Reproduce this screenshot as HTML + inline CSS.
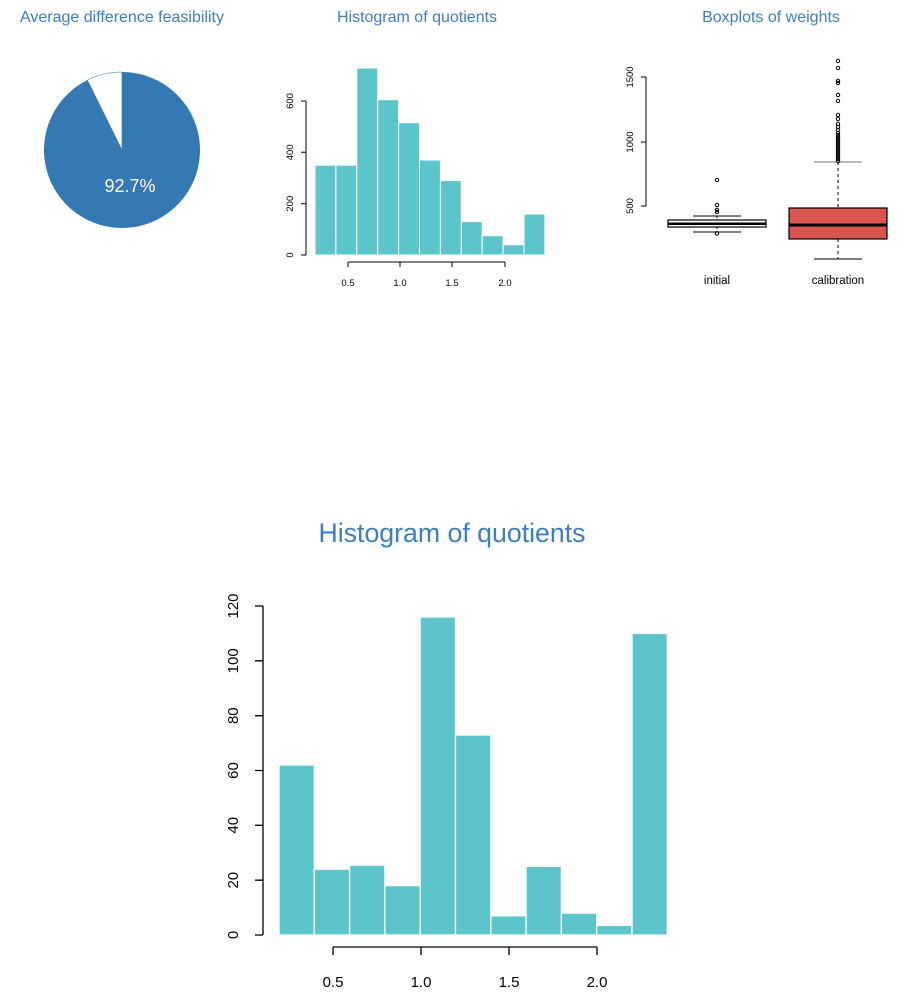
<!DOCTYPE html>
<html><head><meta charset="utf-8"><style>
html,body{margin:0;padding:0;background:#fff;width:909px;height:1007px;overflow:hidden}
svg{display:block;font-family:"Liberation Sans",Arial,sans-serif}
</style></head><body>
<svg width="909" height="1007" viewBox="0 0 909 1007" xmlns="http://www.w3.org/2000/svg">
<!-- titles -->
<g fill="#3a7fc1" font-size="16">
<text x="122" y="22" text-anchor="middle">Average difference feasibility</text>
<text x="417" y="22" text-anchor="middle">Histogram of quotients</text>
<text x="771" y="22" text-anchor="middle">Boxplots of weights</text>
</g>
<!-- pie -->
<path d="M122,150 L122,72 A78,78 0 1,1 87.4,80.1 Z" fill="#3579b4"/>
<path d="M122,150 L87.4,80.1 A78,78 0 0,1 122,72 Z" fill="#fff" stroke="#3579b4" stroke-width="0.6"/>
<text x="130" y="192" fill="#fff" font-size="18" text-anchor="middle">92.7%</text>

<!-- small histogram -->
<g fill="#5bc5cb" stroke="#fff" stroke-width="1">
<rect x="315" y="165.2" width="20.9" height="89.8"/>
<rect x="335.9" y="165.2" width="20.9" height="89.8"/>
<rect x="356.8" y="68" width="20.9" height="187"/>
<rect x="377.7" y="99.7" width="20.9" height="155.3"/>
<rect x="398.6" y="122.8" width="20.9" height="132.2"/>
<rect x="419.5" y="160" width="20.9" height="95"/>
<rect x="440.4" y="180.6" width="20.9" height="74.4"/>
<rect x="461.3" y="221.6" width="20.9" height="33.4"/>
<rect x="482.2" y="235.7" width="20.9" height="19.3"/>
<rect x="503.1" y="244.7" width="20.9" height="10.3"/>
<rect x="524" y="214" width="20.9" height="41"/>
</g>
<g stroke="#000" stroke-width="1" fill="none">
<path d="M306,101 V255 M306,101 H301 M306,152.3 H301 M306,203.7 H301 M306,255 H301"/>
<path d="M348,262 H505 M348,262 V267 M400,262 V267 M452,262 V267 M505,262 V267"/>
</g>
<g font-size="9.5" fill="#000" text-anchor="middle">
<text x="348" y="286">0.5</text><text x="400" y="286">1.0</text><text x="452" y="286">1.5</text><text x="505" y="286">2.0</text>
<text transform="translate(293,255) rotate(-90)">0</text>
<text transform="translate(293,203.7) rotate(-90)">200</text>
<text transform="translate(293,152.3) rotate(-90)">400</text>
<text transform="translate(293,101) rotate(-90)">600</text>
</g>

<!-- boxplots -->
<g stroke="#000" stroke-width="1" fill="none">
<path d="M646,77 V206 M646,77 H641 M646,142 H641 M646,206 H641"/>
</g>
<g font-size="9.5" fill="#000" text-anchor="middle">
<text transform="translate(633,206) rotate(-90)">500</text>
<text transform="translate(633,142) rotate(-90)">1000</text>
<text transform="translate(633,77) rotate(-90)">1500</text>
<text x="717" y="284" font-size="11.5">initial</text>
<text x="838" y="284" font-size="11.5">calibration</text>
</g>
<!-- initial -->
<g stroke="#000" fill="none">
<line x1="717" y1="216" x2="717" y2="220" stroke-dasharray="2,2"/>
<line x1="717" y1="227" x2="717" y2="232" stroke-dasharray="2,2"/>
<line x1="693" y1="216" x2="741" y2="216"/>
<line x1="693" y1="232" x2="741" y2="232"/>
<rect x="668" y="220" width="98" height="7" stroke-width="1.2"/>
<line x1="668" y1="223.7" x2="766" y2="223.7" stroke-width="2.5"/>
<circle cx="717" cy="180" r="1.7"/>
<circle cx="717" cy="205" r="1.7"/>
<circle cx="717" cy="210" r="1.7"/>
<circle cx="717" cy="212" r="1.7"/>
<circle cx="717" cy="233.5" r="1.7"/>
</g>
<!-- calibration -->
<g stroke="#000" fill="none">
<line x1="838" y1="162" x2="838" y2="208" stroke-dasharray="3,3"/>
<line x1="838" y1="239" x2="838" y2="259" stroke-dasharray="3,3"/>
<line x1="814" y1="162" x2="862" y2="162" stroke="#777"/>
<line x1="814" y1="259" x2="862" y2="259"/>
<rect x="789" y="208" width="98" height="31" fill="#d95550" stroke-width="1.2"/>
<line x1="789" y1="225" x2="887" y2="225" stroke-width="3"/>
<circle cx="838" cy="61" r="1.7"/><circle cx="838" cy="68" r="1.7"/>
<circle cx="838" cy="81" r="1.7"/><circle cx="838" cy="83" r="1.7"/>
<circle cx="838" cy="95" r="1.7"/><circle cx="838" cy="101" r="1.7"/>
<circle cx="838" cy="115" r="1.7"/><circle cx="838" cy="119" r="1.7"/>
<circle cx="838" cy="124" r="1.7"/><circle cx="838" cy="127" r="1.7"/>
<circle cx="838" cy="130" r="1.7"/><circle cx="838" cy="133" r="1.7"/>
<circle cx="838" cy="135" r="1.7"/><circle cx="838" cy="137" r="1.7"/>
<circle cx="838" cy="139" r="1.7"/><circle cx="838" cy="141" r="1.7"/>
<circle cx="838" cy="143" r="1.7"/><circle cx="838" cy="145" r="1.7"/>
<circle cx="838" cy="147" r="1.7"/><circle cx="838" cy="149" r="1.7"/>
<circle cx="838" cy="151" r="1.7"/><circle cx="838" cy="153" r="1.7"/>
<circle cx="838" cy="155" r="1.7"/><circle cx="838" cy="157" r="1.7"/>
<circle cx="838" cy="159" r="1.7"/><circle cx="838" cy="161" r="1.7"/>
</g>

<!-- big histogram -->
<text x="452" y="542" fill="#3a7fc1" font-size="26.7" text-anchor="middle">Histogram of quotients</text>
<g fill="#5bc5cb" stroke="#fff" stroke-width="1.3">
<rect x="279" y="765" width="35.3" height="170"/>
<rect x="314.3" y="869.2" width="35.3" height="65.8"/>
<rect x="349.6" y="865.1" width="35.3" height="69.9"/>
<rect x="384.9" y="885.6" width="35.3" height="49.4"/>
<rect x="420.2" y="617" width="35.3" height="318"/>
<rect x="455.5" y="735" width="35.3" height="200"/>
<rect x="490.8" y="915.8" width="35.3" height="19.2"/>
<rect x="526.1" y="866.4" width="35.3" height="68.6"/>
<rect x="561.4" y="913.1" width="35.3" height="21.9"/>
<rect x="596.7" y="925.4" width="35.3" height="9.6"/>
<rect x="632" y="633.4" width="35.3" height="301.6"/>
</g>
<g stroke="#000" stroke-width="1.3" fill="none">
<path d="M263,606 V935 M263,606 H255 M263,660.8 H255 M263,715.7 H255 M263,770.5 H255 M263,825.3 H255 M263,880.2 H255 M263,935 H255"/>
<path d="M333,947 H597 M333,947 V955 M421,947 V955 M509,947 V955 M597,947 V955"/>
</g>
<g font-size="15" fill="#000" text-anchor="middle">
<text x="333" y="987">0.5</text><text x="421" y="987">1.0</text><text x="509" y="987">1.5</text><text x="597" y="987">2.0</text>
<text transform="translate(238,935) rotate(-90)">0</text>
<text transform="translate(238,880.2) rotate(-90)">20</text>
<text transform="translate(238,825.3) rotate(-90)">40</text>
<text transform="translate(238,770.5) rotate(-90)">60</text>
<text transform="translate(238,715.7) rotate(-90)">80</text>
<text transform="translate(238,660.8) rotate(-90)">100</text>
<text transform="translate(238,606) rotate(-90)">120</text>
</g>
</svg>
</body></html>
